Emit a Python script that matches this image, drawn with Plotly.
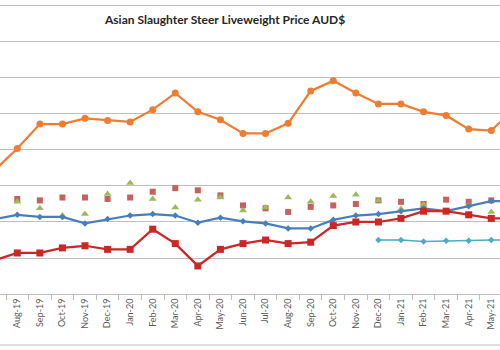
import plotly.graph_objects as go

months = ["Jul-19", "Aug-19", "Sep-19", "Oct-19", "Nov-19", "Dec-19", "Jan-20", "Feb-20",
          "Mar-20", "Apr-20", "May-20", "Jun-20", "Jul-20", "Aug-20", "Sep-20", "Oct-20",
          "Nov-20", "Dec-20", "Jan-21", "Feb-21", "Mar-21", "Apr-21", "May-21", "Jun-21"]

orange_vals = [3.22, 3.52, 3.86, 3.86, 3.94, 3.91, 3.89, 4.06, 4.29, 4.03, 3.92, 3.73,
               3.73, 3.87, 4.32, 4.46, 4.29, 4.14, 4.14, 4.03, 3.98, 3.79, 3.77, 4.07]
blue_vals = [2.54, 2.60, 2.57, 2.57, 2.48, 2.54, 2.59, 2.61, 2.59, 2.49, 2.56, 2.51,
             2.48, 2.41, 2.41, 2.53, 2.59, 2.61, 2.65, 2.69, 2.65, 2.72, 2.79, 2.79]
red_vals = [1.97, 2.07, 2.07, 2.14, 2.17, 2.12, 2.12, 2.40, 2.20, 1.89, 2.12, 2.20,
            2.25, 2.20, 2.22, 2.45, 2.50, 2.50, 2.55, 2.65, 2.65, 2.60, 2.55, 2.55]
red_sq_vals = [None, 2.82, 2.80, 2.84, 2.84, 2.82, 2.84, 2.92, 2.97, 2.94, 2.87, 2.73,
               2.69, 2.64, 2.71, 2.73, 2.75, 2.80, 2.78, 2.75, 2.81, 2.78, 2.80, None]
green_vals = [None, 2.78, 2.69, 2.59, 2.61, 2.89, 3.04, 2.82, 2.70, 2.81, 2.84, 2.66,
              2.70, 2.84, 2.78, 2.86, 2.88, 2.80, 2.68, 2.74, 2.65, 2.73, 2.64, None]
cyan_vals = [None] * 17 + [2.25, 2.25, 2.23, 2.24, 2.24, 2.25, 2.25]

# labels shown (the first and last month sit outside the visible window)
tick_labels = [""] + months[1:23] + [""]

title_text = "Asian Slaughter Steer Liveweight Price AUD$"

fig = go.Figure()

fig.add_trace(go.Scatter(x=months, y=orange_vals, mode="lines+markers", name="Series A",
                         line=dict(color="#ED7D31", width=2.25),
                         marker=dict(symbol="circle", size=7, color="#ED7D31")))
fig.add_trace(go.Scatter(x=months, y=red_sq_vals, mode="markers", name="Series B",
                         marker=dict(symbol="square", size=6, color="#C0504D", opacity=0.9)))
fig.add_trace(go.Scatter(x=months, y=green_vals, mode="markers", name="Series C",
                         marker=dict(symbol="triangle-up", size=7, color="#9BBB59")))
fig.add_trace(go.Scatter(x=months, y=blue_vals, mode="lines+markers", name="Series D",
                         line=dict(color="#4A7EBB", width=2.25),
                         marker=dict(symbol="diamond", size=5, color="#4A7EBB")))
fig.add_trace(go.Scatter(x=months, y=red_vals, mode="lines+markers", name="Series E",
                         line=dict(color="#CC2626", width=2.25),
                         marker=dict(symbol="square", size=7, color="#CC2626")))
fig.add_trace(go.Scatter(x=months, y=cyan_vals, mode="lines+markers", name="Series F",
                         line=dict(color="#4BACC6", width=1.5),
                         marker=dict(symbol="diamond", size=5, color="#4BACC6")))

fig.update_layout(
    width=500, height=350,
    margin=dict(l=0, r=0, t=0, b=56),
    paper_bgcolor="white", plot_bgcolor="white",
    showlegend=False,
    font=dict(family="Lato, Open Sans, sans-serif", color="#595959"),
    annotations=[dict(text="<b>" + title_text + "</b>", xref="paper", yref="paper",
                      x=224 / 500, y=1 - 20 / 294, xanchor="center", yanchor="middle",
                      showarrow=False, font=dict(size=12, color="#262626"))],
)

fig.update_xaxes(
    type="category", range=[0.234, 22.387],
    tickmode="array", tickvals=months, ticktext=tick_labels,
    tickangle=-90, tickfont=dict(size=9, color="#595959"),
    showgrid=False, showline=True, linecolor="#BFBFBF", linewidth=1,
    ticks="outside", tickson="boundaries", ticklen=5, tickcolor="#BFBFBF",
)
fig.update_yaxes(
    range=[1.5, 5.583], dtick=0.5, tick0=1.5,
    showgrid=True, gridcolor="#BFBFBF", gridwidth=1,
    showticklabels=False, zeroline=False, showline=False,
)
fig.add_shape(type="line", xref="paper", yref="paper", x0=0, x1=1,
              y0=-(345 - 294) / 294, y1=-(345 - 294) / 294,
              line=dict(color="#BFBFBF", width=1))

fig.write_html("out.html")
